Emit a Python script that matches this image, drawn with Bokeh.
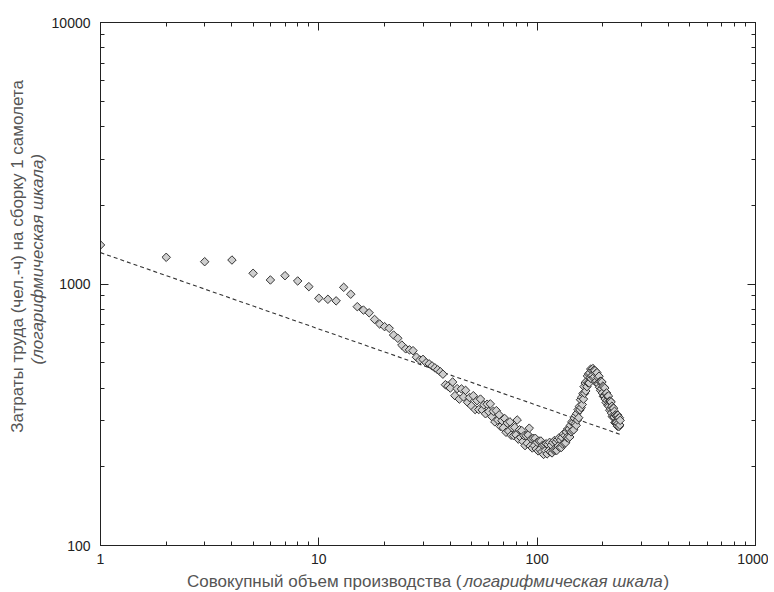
import math
from bokeh.plotting import figure
from bokeh.layouts import row, column
from bokeh.models import (LogAxis, FixedTicker, PrintfTickFormatter, Label,
                          ColumnDataSource, CustomJSTickFormatter)
from bokeh.embed import file_html
from bokeh.resources import INLINE

# ---- data (cumulative output -> labour hours per aircraft) ----
units = list(range(1, 241))
hours = [
    1410, 1265, 1217, 1235, 1099, 1036, 1076, 1027, 977, 882,      # 1-10
    874, 862, 971, 914, 819, 795, 776, 732, 703, 687,              # 11-20
    677, 638, 620, 584, 565, 560, 556, 525, 512, 515,              # 21-30
    500, 495, 486, 478, 470, 462, 452, 412, 407, 400,              # 31-40
    422, 374, 398, 363, 397, 370, 392, 353, 368, 342,              # 41-50
    374, 331, 358, 331, 363, 330, 345, 319, 347, 325,              # 51-60
    348, 311, 326, 297, 328, 302, 316, 285, 300, 282,              # 61-70
    306, 271, 294, 274, 297, 264, 282, 263, 283, 265,              # 71-80
    302, 255, 277, 259, 275, 250, 263, 241, 263, 246,              # 81-90
    265, 281, 240, 256, 236, 257, 241, 257, 234, 248,              # 91-100
    230, 251, 233, 251, 228, 242, 223, 243, 231, 245,              # 101-110
    224, 243, 231, 248, 228, 242, 226, 248, 232, 252,              # 111-120
    231, 249, 231, 254, 240, 258, 237, 253, 237, 259,              # 121-130
    244, 267, 246, 263, 247, 272, 259, 279, 257, 279,              # 131-140
    260, 288, 272, 297, 275, 295, 277, 307, 292, 314,              # 141-150
    288, 320, 302, 331, 308, 340, 330, 361, 337, 369,              # 151-160
    346, 381, 363, 405, 382, 418, 390, 424, 405, 445,              # 161-170
    419, 453, 418, 457, 438, 473, 434, 468, 447, 475,              # 171-180
    438, 468, 442, 466, 423, 455, 426, 458, 416, 439,              # 181-190
    414, 444, 403, 424, 392, 425, 398, 422, 383, 407,              # 191-200
    372, 404, 373, 400, 363, 381, 352, 383, 358, 372,              # 201-210
    344, 373, 341, 356, 329, 357, 333, 354, 321, 341,              # 211-220
    312, 335, 309, 335, 310, 326, 295, 316, 295, 313,              # 221-230
    296, 315, 286, 315, 293, 307, 285, 308, 289, 301,              # 231-240
]

# fitted learning curve (dashed line) endpoints
trend_x = [1, 240]
trend_y = [1318, 266]

x_ticks = [1, 10, 100, 1000]
y_ticks = [100, 1000, 10000]

x_label_main = "Совокупный объем производства ("
x_label_ital = "логарифмическая шкала"
x_label_end = ")"
y_label_1 = "Затраты труда (чел.-ч) на сборку 1 самолета"
y_label_2 = "(логарифмическая шкала)"

FONT = "Liberation Sans"
LAB_COL = "#555555"
LAB_FS = "17px"

YW = 48                 # y-title strip width
PW, PH = 720, 570       # main plot
XH = 22                 # x-title strip height

p = figure(width=PW, height=PH, x_axis_type="log", y_axis_type="log",
           x_range=(1, 1000), y_range=(100, 10000),
           output_backend="svg", toolbar_location=None,
           min_border_left=50, min_border_right=13,
           min_border_top=22, min_border_bottom=25)

p.xgrid.visible = False
p.ygrid.visible = False
p.outline_line_color = "#222222"
p.outline_line_width = 1
p.background_fill_color = "white"
p.border_fill_color = "white"


def minor_list(majors):
    out = []
    for m in majors[:-1]:
        out += [m * k for k in range(2, 10)]
    return out


xt = FixedTicker(ticks=x_ticks, minor_ticks=minor_list(x_ticks))
yt = FixedTicker(ticks=y_ticks, minor_ticks=minor_list(y_ticks))


def style_axis(ax, show_labels):
    ax.axis_line_color = "#222222"
    ax.major_tick_in = 8
    ax.major_tick_out = 0
    ax.minor_tick_in = 4
    ax.minor_tick_out = 0
    ax.major_tick_line_color = "#222222"
    ax.minor_tick_line_color = "#222222"
    if show_labels:
        ax.formatter = PrintfTickFormatter(format="%d")
        ax.major_label_text_font = FONT
        ax.major_label_text_font_size = "14px"
        ax.major_label_text_color = "#222222"
    else:
        ax.formatter = CustomJSTickFormatter(code="return '';")
        ax.major_label_standoff = 0


p.xaxis.ticker = xt
p.yaxis.ticker = yt
style_axis(p.xaxis[0], True)
style_axis(p.yaxis[0], True)
p.xaxis.major_label_standoff = 8
p.yaxis.major_label_standoff = 10

top_ax = LogAxis(ticker=xt)
right_ax = LogAxis(ticker=yt)
style_axis(top_ax, False)
style_axis(right_ax, False)
p.add_layout(top_ax, "above")
p.add_layout(right_ax, "right")

# dashed trend line
p.line(trend_x, trend_y, line_color="#333333", line_width=1.1, line_dash="4 3")

# data points (diamonds = rotated squares)
src = ColumnDataSource(dict(x=units, y=hours))
p.scatter("x", "y", source=src, marker="square", angle=math.pi / 4, size=6,
          line_color="#333333", line_width=1, fill_color="#cfcfcf",
          fill_alpha=1.0)


def strip(w, h):
    f = figure(width=w, height=h, x_range=(0, w), y_range=(0, h),
               output_backend="svg", toolbar_location=None,
               x_axis_location=None, y_axis_location=None,
               min_border=0, min_border_left=0, min_border_right=0,
               min_border_top=0, min_border_bottom=0)
    f.grid.visible = False
    f.outline_line_color = None
    f.background_fill_color = "white"
    f.border_fill_color = "white"
    return f


# y-axis title strip (two rotated lines)
ylab = strip(YW, PH)
ylab.add_layout(Label(x=17, y=PH - 255, text=y_label_1, angle=math.pi / 2,
                      text_align="center", text_baseline="middle",
                      text_font=FONT, text_font_size=LAB_FS,
                      text_color=LAB_COL))
ylab.add_layout(Label(x=37, y=PH - 258, text=y_label_2, angle=math.pi / 2,
                      text_align="center", text_baseline="middle",
                      text_font=FONT, text_font_size=LAB_FS,
                      text_font_style="italic", text_color=LAB_COL))

# x-axis title strip (normal + italic parts)
xlab = strip(YW + PW, XH)
xy = 11
xlab.add_layout(Label(x=461, y=xy, text=x_label_main, text_align="right",
                      text_baseline="middle", text_font=FONT,
                      text_font_size=LAB_FS, text_color=LAB_COL))
xlab.add_layout(Label(x=463, y=xy, text=x_label_ital, text_align="left",
                      text_baseline="middle", text_font=FONT,
                      text_font_size=LAB_FS, text_font_style="italic",
                      text_color=LAB_COL))
xlab.add_layout(Label(x=663, y=xy, text=x_label_end, text_align="left",
                      text_baseline="middle", text_font=FONT,
                      text_font_size=LAB_FS, text_color=LAB_COL))

layout = column(row(ylab, p), xlab)

open("out.html", "w").write(file_html(layout, INLINE))
